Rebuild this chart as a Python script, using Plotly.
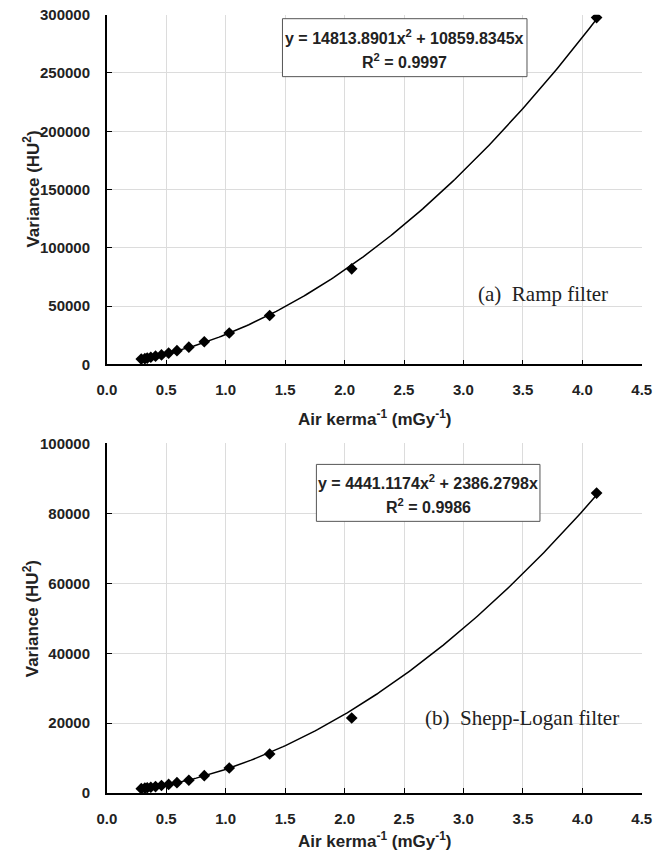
import numpy as np
import plotly.graph_objects as go

# ---- data ----
inv_kerma = [0.29, 0.32, 0.34, 0.37, 0.41, 0.46, 0.52, 0.59, 0.69, 0.82, 1.03, 1.37, 2.06, 4.12]
var_ramp = [4600, 5000, 5500, 6200, 7100, 8200, 9800, 11800, 14800, 19500, 27000, 42000, 82000, 297500]
var_shepp = [1300, 1450, 1550, 1700, 1900, 2200, 2500, 3000, 3700, 5000, 7200, 11200, 21500, 85800]
fit_ramp = (14813.8901, 10859.8345)
fit_shepp = (4441.1174, 2386.2798)
eq_ramp = ["y = 14813.8901x<sup>2</sup> + 10859.8345x", "R<sup>2</sup> = 0.9997"]
eq_shepp = ["y = 4441.1174x<sup>2</sup> + 2386.2798x", "R<sup>2</sup> = 0.9986"]
x_ticks = [0.0, 0.5, 1.0, 1.5, 2.0, 2.5, 3.0, 3.5, 4.0, 4.5]
y_ticks_ramp = [0, 50000, 100000, 150000, 200000, 250000, 300000]
y_ticks_shepp = [0, 20000, 40000, 60000, 80000, 100000]

W, H = 669, 865
# map target screen pixels to figure fractions (small correction for the capture offset)
def px(x): return ((x - 9) / 0.972) / W
def py(y): return 1 - ((y - 8.3) / 0.981) / H

xc = np.linspace(min(inv_kerma), max(inv_kerma), 200)

fig = go.Figure()
for (yv, coef, xa, ya) in [(var_ramp, fit_ramp, "x", "y"), (var_shepp, fit_shepp, "x2", "y2")]:
    a, b = coef
    fig.add_trace(go.Scatter(x=xc, y=a * xc**2 + b * xc, mode="lines",
                             line=dict(color="black", width=1.5), xaxis=xa, yaxis=ya,
                             showlegend=False, hoverinfo="skip"))
    fig.add_trace(go.Scatter(x=inv_kerma, y=yv, mode="markers",
                             marker=dict(symbol="diamond", size=9, color="black"),
                             xaxis=xa, yaxis=ya, showlegend=False))

tickfont = dict(family="Liberation Sans, Arial", size=15, color="#222222")
common_x = dict(range=[0, 4.5], tickvals=x_ticks,
                ticktext=["<b>%.1f</b>" % v for v in x_ticks],
                showline=True, linecolor="black", linewidth=1.5,
                showgrid=True, gridcolor="#dcdcdc", gridwidth=1,
                ticks="inside", ticklen=5, tickcolor="black", tickwidth=1.2,
                tickfont=tickfont, zeroline=False, ticklabelstandoff=11,
                domain=[px(106), px(642)])
common_y = dict(showline=True, linecolor="black", linewidth=1.5,
                showgrid=True, gridcolor="#dcdcdc", gridwidth=1,
                ticks="inside", ticklen=5, tickcolor="black", tickwidth=1.2,
                tickfont=tickfont, zeroline=False, ticklabelstandoff=12)

fig.update_layout(
    width=W, height=H, margin=dict(l=0, r=0, t=0, b=0),
    paper_bgcolor="white", plot_bgcolor="white",
    xaxis=dict(**common_x, anchor="y"),
    yaxis=dict(**common_y, range=[0, 300000], tickvals=y_ticks_ramp,
               ticktext=["<b>%d</b>" % v for v in y_ticks_ramp],
               domain=[py(364), py(14)], anchor="x"),
    xaxis2=dict(**common_x, anchor="y2"),
    yaxis2=dict(**common_y, range=[0, 100000], tickvals=y_ticks_shepp,
                ticktext=["<b>%d</b>" % v for v in y_ticks_shepp],
                domain=[py(793), py(443)], anchor="x2"),
)

titlefont = dict(family="Liberation Sans, Arial", size=17, color="#222222")
eqfont = dict(family="Liberation Sans, Arial", size=16, color="#222222")
serif = dict(family="Liberation Serif, Times New Roman", size=21, color="#222222")
ann = []
def A(x, y, text, font, **kw):
    ann.append(dict(x=px(x), y=py(y), xref="paper", yref="paper", showarrow=False,
                    xanchor="center", yanchor="middle", text=text, font=font, **kw))
# axis titles
for yt in [418, 840]:
    A(374, yt, "<b>Air kerma<sup>-1</sup> (mGy<sup>-1</sup>)</b>", titlefont)
for yc in [188, 618]:
    A(30, yc, "<b>Variance (HU<sup>2</sup>)</b>", titlefont, textangle=-90)
# equation boxes
shapes = []
for (box, lines) in [((282, 18, 527, 76), eq_ramp), ((316, 464, 540, 521), eq_shepp)]:
    x0, y0, x1, y1 = box
    shapes.append(dict(type="rect", xref="paper", yref="paper",
                       x0=px(x0), x1=px(x1), y0=py(y1), y1=py(y0),
                       line=dict(color="#555555", width=1), fillcolor="white", layer="above"))
    A((x0 + x1) / 2, y0 + 18, "<b>" + lines[0] + "</b>", eqfont)
    A((x0 + x1) / 2, y0 + 42, "<b>" + lines[1] + "</b>", eqfont)
A(543, 293, "(a)  Ramp filter", serif)
A(522, 718, "(b)  Shepp-Logan filter", serif)
fig.update_layout(annotations=ann, shapes=shapes)

fig.write_html("out.html")
